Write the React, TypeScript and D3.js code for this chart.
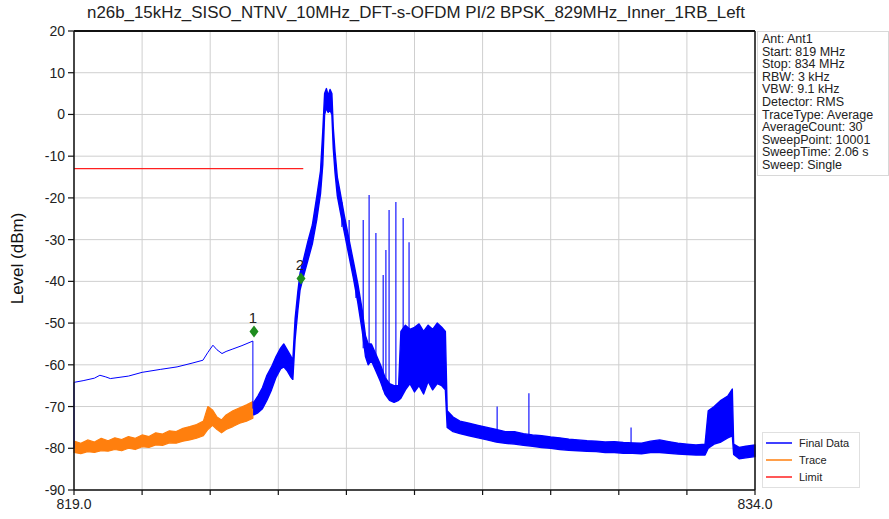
import React from "react";
import * as d3 from "d3";

// ---------- data ----------
const titleText = "n26b_15kHz_SISO_NTNV_10MHz_DFT-s-OFDM PI/2 BPSK_829MHz_Inner_1RB_Left";
const levelTicks = [20, 10, 0, -10, -20, -30, -40, -50, -60, -70, -80, -90];
const freqGrid = [819, 820.5, 822, 823.5, 825, 826.5, 828, 829.5, 831, 832.5, 834];
const freqLabels = [819.0, 834.0];
const limitFreq = [819.0, 824.05];
const limitLevel = -13;

// thin blue part of "Final Data" (freq, level)
const finalThin: [number, number][] = [
  [819.0, -80.0], [819.0, -64.2], [819.2, -63.8], [819.45, -63.2], [819.57, -62.5],
  [819.7, -62.9], [819.8, -63.3], [820.2, -62.7], [820.5, -61.8], [820.9, -61.1],
  [821.27, -60.5], [821.6, -59.6], [821.84, -58.9], [821.95, -57.0], [822.06, -55.3],
  [822.15, -56.4], [822.26, -57.3], [822.35, -56.8], [822.5, -56.2], [822.7, -55.4],
  [822.94, -54.3], [822.94, -70.5],
];

// noisy blue part of "Final Data" (freq, low, high)
const finalBand: [number, number, number][] = [
  [822.96, -72.0, -69.0], [823.05, -71.5, -67.5], [823.15, -70.5, -65.5], [823.25, -68.5, -62.5],
  [823.35, -66.0, -60.5], [823.45, -63.0, -58.0], [823.55, -61.0, -56.0], [823.62, -60.5, -55.0],
  [823.7, -61.5, -56.5], [823.78, -63.0, -58.0], [823.82, -63.5, -59.0], [823.87, -54.0, -49.0],
  [823.93, -47.0, -42.5], [823.98, -42.0, -38.0], [824.05, -39.0, -35.0], [824.15, -35.0, -30.5],
  [824.25, -31.0, -26.5], [824.35, -25.0, -19.5], [824.43, -19.0, -13.5], [824.48, -12.0, -4.0],
  [824.52, 0.0, 5.0], [824.56, 1.5, 6.2], [824.6, 0.5, 4.5], [824.64, 1.0, 6.0],
  [824.68, 0.0, 5.0], [824.71, -8.0, -3.0], [824.75, -14.0, -9.0], [824.8, -19.5, -15.0],
  [824.86, -23.0, -18.5], [824.95, -28.0, -24.0], [825.05, -33.5, -29.5], [825.15, -39.0, -35.0],
  [825.25, -45.0, -40.5], [825.35, -52.0, -47.0], [825.42, -58.0, -53.0], [825.48, -60.0, -55.0],
  [825.55, -59.0, -55.0], [825.65, -61.5, -57.5], [825.75, -64.0, -60.0], [825.85, -67.0, -63.0],
  [825.95, -68.5, -64.5], [826.05, -69.0, -65.0], [826.15, -68.5, -65.0], [826.2, -68.0, -52.0],
  [826.3, -66.0, -50.5], [826.4, -64.5, -51.5], [826.5, -66.5, -51.0], [826.6, -65.0, -50.2],
  [826.7, -67.0, -52.0], [826.8, -64.0, -50.5], [826.9, -66.0, -51.5], [827.0, -64.5, -50.0],
  [827.1, -65.0, -51.0], [827.18, -66.0, -52.0], [827.22, -75.0, -71.0], [827.35, -76.0, -72.5],
  [827.5, -76.5, -73.5], [827.7, -77.0, -74.0], [827.9, -77.5, -74.5], [828.1, -78.0, -75.0],
  [828.3, -78.5, -75.5], [828.5, -78.8, -76.0], [828.7, -79.0, -76.0], [828.9, -79.3, -76.5],
  [829.1, -79.5, -76.8], [829.3, -79.8, -77.0], [829.5, -80.0, -77.3], [829.7, -80.3, -77.5],
  [829.9, -80.5, -77.8], [830.1, -80.6, -78.0], [830.3, -80.7, -78.2], [830.5, -80.8, -78.3],
  [830.7, -81.0, -78.5], [830.9, -81.0, -78.4], [831.1, -81.2, -78.6], [831.3, -81.2, -78.7],
  [831.5, -81.3, -78.8], [831.7, -81.0, -78.3], [831.9, -81.0, -78.0], [832.1, -81.2, -78.4],
  [832.3, -81.4, -78.8], [832.5, -81.5, -79.0], [832.7, -81.6, -79.2], [832.9, -81.6, -79.0],
  [832.97, -80.0, -71.0], [833.1, -79.0, -70.0], [833.25, -78.5, -68.5], [833.4, -77.5, -67.5],
  [833.5, -77.0, -65.8], [833.53, -81.5, -79.0], [833.65, -82.5, -79.8], [833.8, -82.3, -79.5],
  [834.0, -82.0, -79.2],
];

// spurs on "Final Data" (freq, top, base)
const finalSpurs: [number, number, number][] = [
  [824.9, -21.0, -27.0], [825.06, -25.3, -33.0], [825.21, -39.2, -44.0], [825.37, -25.3, -56.0],
  [825.5, -19.3, -59.0], [825.65, -28.4, -60.0], [825.81, -38.5, -66.0], [825.87, -32.5, -67.0],
  [825.94, -22.9, -68.0], [826.09, -21.0, -68.0], [826.25, -24.8, -60.0], [826.38, -30.6, -60.0],
  [828.32, -70.0, -76.0], [829.02, -66.8, -77.0], [831.27, -75.0, -79.0],
];

// orange "Trace" (freq, low, high)
const traceBand: [number, number, number][] = [
  [819.0, -81.0, -78.3], [819.15, -81.3, -78.8], [819.3, -80.8, -78.0], [819.45, -81.0, -78.5],
  [819.6, -80.6, -77.6], [819.75, -80.7, -78.2], [819.9, -80.3, -77.5], [820.05, -80.6, -77.9],
  [820.2, -80.0, -77.2], [820.35, -80.3, -77.6], [820.5, -79.6, -76.8], [820.65, -79.8, -77.2],
  [820.8, -79.2, -76.3], [820.95, -79.3, -76.6], [821.1, -78.7, -75.8], [821.25, -78.8, -76.0],
  [821.4, -78.3, -75.2], [821.55, -78.0, -74.8], [821.7, -77.6, -74.3], [821.85, -77.0, -73.5],
  [821.95, -75.5, -70.0], [822.05, -74.5, -70.8], [822.15, -75.5, -72.5], [822.25, -76.3, -73.2],
  [822.35, -75.5, -72.0], [822.5, -74.8, -71.0], [822.65, -74.0, -70.3], [822.8, -73.5, -69.6],
  [822.94, -72.8, -68.8],
];

const markerLabels = ["1", "2"];
const markerFreq = [822.965, 824.0];
const markerLevel = [-52.0, -39.3];

const infoLines = [
  "Ant: Ant1", "Start: 819 MHz", "Stop: 834 MHz", "RBW: 3 kHz", "VBW: 9.1 kHz",
  "Detector: RMS", "TraceType: Average", "AverageCount: 30", "SweepPoint: 10001",
  "SweepTime: 2.06 s", "Sweep: Single",
];
const legendNames = ["Final Data", "Trace", "Limit"];
const legendColors = ["#0000ff", "#ff7f0e", "#ff2020"];

// ---------- chart ----------
const W = 889, H = 519;
const L = 74, R = 755, T = 31, B = 490;
const FONT = "'Liberation Sans', Arial, Helvetica, sans-serif";

export default function App() {
  const x = d3.scaleLinear().domain([819, 834]).range([L, R]);
  const y = d3.scaleLinear().domain([-90, 20]).range([B, T]);

  const thinLine = d3.line<[number, number]>().x(d => x(d[0])).y(d => y(d[1]))(finalThin) || "";
  const bandArea = d3.area<[number, number, number]>()
    .x(d => x(d[0])).y0(d => y(d[1])).y1(d => y(d[2]));
  const blueArea = bandArea(finalBand) || "";
  const orangeArea = bandArea(traceBand) || "";

  return (
    <svg width={W} height={H} style={{ position: "absolute", left: 0, top: 0, background: "#fff" }}
      fontFamily={FONT}>
      {/* title */}
      <text x={416} y={18} textAnchor="middle" fontSize={16} fill="#222"
        fontFamily="'Liberation Sans Narrow', 'Liberation Sans', Arial, sans-serif"
        textLength={658} lengthAdjust="spacingAndGlyphs">{titleText}</text>

      {/* grid */}
      {levelTicks.map(v => (
        <line key={"gy" + v} x1={L} x2={R} y1={y(v)} y2={y(v)} stroke="#cfcfcf" strokeWidth={1} />
      ))}
      {freqGrid.map(f => (
        <line key={"gx" + f} x1={x(f)} x2={x(f)} y1={T} y2={B} stroke="#cfcfcf" strokeWidth={1} />
      ))}

      {/* limit */}
      <line x1={x(limitFreq[0])} x2={x(limitFreq[1])} y1={y(limitLevel)} y2={y(limitLevel)}
        stroke="#ff2020" strokeWidth={1.3} />

      {/* trace (orange) */}
      <path d={orangeArea} fill="#ff7f0e" stroke="#ff7f0e" strokeWidth={1.2} strokeLinejoin="round" />

      {/* final data */}
      <path d={thinLine} fill="none" stroke="#0000ff" strokeWidth={1} />
      <path d={blueArea} fill="#0000ff" stroke="#0000ff" strokeWidth={1.4} strokeLinejoin="round" />
      {finalSpurs.map((s, i) => (
        <line key={"sp" + i} x1={x(s[0])} x2={x(s[0])} y1={y(s[1])} y2={y(s[2])}
          stroke="#0000ff" strokeWidth={1.1} />
      ))}

      {/* markers */}
      {markerLabels.map((lab, i) => {
        const cx = x(markerFreq[i]);
        const cy = y(markerLevel[i]);
        return (
          <g key={"m" + i}>
            <path d={`M${cx},${cy - 6} L${cx + 4.5},${cy} L${cx},${cy + 6} L${cx - 4.5},${cy} Z`} fill="#1e8c1e" />
            <text x={cx - 1} y={cy - 8} textAnchor="middle" fontSize={15} fill="#222">{lab}</text>
          </g>
        );
      })}

      {/* frame */}
      <line x1={L} x2={R} y1={T} y2={T} stroke="#111" strokeWidth={2} />
      <line x1={L} x2={R} y1={B} y2={B} stroke="#111" strokeWidth={1.5} />
      <line x1={L} x2={L} y1={T} y2={B} stroke="#111" strokeWidth={1.5} />
      <line x1={R} x2={R} y1={T} y2={B} stroke="#111" strokeWidth={1.5} />

      {/* y ticks */}
      {levelTicks.map(v => (
        <g key={"ty" + v}>
          <line x1={L - 6} x2={L} y1={y(v)} y2={y(v)} stroke="#111" strokeWidth={1.2} />
          <text x={L - 9} y={y(v) + 5} textAnchor="end" fontSize={14} fill="#222">{v}</text>
        </g>
      ))}
      {/* x ticks */}
      {freqGrid.map(f => (
        <line key={"tx" + f} x1={x(f)} x2={x(f)} y1={B} y2={B + 5} stroke="#111" strokeWidth={1.2} />
      ))}
      {freqLabels.map(f => (
        <text key={"lx" + f} x={x(f)} y={B + 19} textAnchor="middle" fontSize={14} fill="#222">{f.toFixed(1)}</text>
      ))}

      {/* y label */}
      <text transform={`translate(23,${(T + B) / 2 - 2}) rotate(-90)`} textAnchor="middle" fontSize={17} fill="#111">Level (dBm)</text>

      {/* info box */}
      <rect x={757.5} y={31.5} width={131} height={144} fill="#fff" stroke="#d8d8d8" strokeWidth={1} />
      {infoLines.map((t, i) => (
        <text key={"inf" + i} x={762} y={43 + i * 12.6} fontSize={12.5} fill="#222">{t}</text>
      ))}

      {/* legend */}
      <rect x={762.5} y={432.5} width={97} height={55} fill="#fff" stroke="#e0e0e0" strokeWidth={1} />
      {legendNames.map((n, i) => (
        <g key={"lg" + i}>
          <line x1={766} x2={792} y1={443 + i * 17} y2={443 + i * 17} stroke={legendColors[i]} strokeWidth={1.5} />
          <text x={799} y={447 + i * 17} fontSize={11} fill="#222">{n}</text>
        </g>
      ))}
    </svg>
  );
}
